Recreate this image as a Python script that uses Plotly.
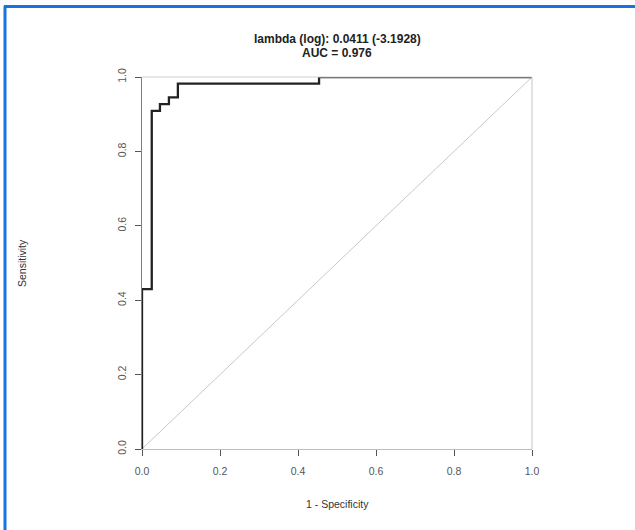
import plotly.graph_objects as go

# ROC curve points (1 - specificity, sensitivity)
fpr = [0.0, 0.0, 0.025, 0.046, 0.069, 0.092, 0.454, 1.0]
tpr = [0.0, 0.43, 0.909, 0.927, 0.945, 0.982, 1.0, 1.0]
diag_x = [0.0, 1.0]
diag_y = [0.0, 1.0]
tick_vals = [0.0, 0.2, 0.4, 0.6, 0.8, 1.0]
tick_text = ["0.0", "0.2", "0.4", "0.6", "0.8", "1.0"]
title_lines = ["lambda (log): 0.0411 (-3.1928)", "AUC = 0.976"]
x_title = "1 - Specificity"
y_title = "Sensitivity"

W, H = 635, 530
L, R, T, B = 142, 103, 77, 81
pw, ph = W - L - R, H - T - B

FONT = "Liberation Sans, Arial, sans-serif"

fig = go.Figure()
fig.add_trace(go.Scatter(x=diag_x, y=diag_y, mode="lines",
                         line=dict(color="#c8c8c8", width=1),
                         hoverinfo="skip", showlegend=False))
fig.add_trace(go.Scatter(x=fpr, y=tpr, mode="lines", line_shape="hv",
                         line=dict(color="#222222", width=2.3),
                         cliponaxis=False, showlegend=False))

def px_x(p):
    return (p - L) / pw

def px_y(p):
    return (H - B - p) / ph

shapes = [
    # light gray box top and right
    dict(type="line", xref="paper", yref="paper", x0=0, x1=1, y0=1, y1=1,
         line=dict(color="#cfcfcf", width=1.2)),
    dict(type="line", xref="paper", yref="paper", x0=1, x1=1, y0=0, y1=1,
         line=dict(color="#cfcfcf", width=1.2)),
    # blue frame (left and top)
    dict(type="line", xref="paper", yref="paper", x0=px_x(5), x1=px_x(5),
         y0=px_y(6), y1=px_y(H + 5), line=dict(color="#1872e0", width=3)),
    dict(type="line", xref="paper", yref="paper", x0=px_x(4), x1=px_x(W + 5),
         y0=px_y(6.5), y1=px_y(6.5), line=dict(color="#1872e0", width=3)),
]

annotations = [
    dict(text="<b>" + title_lines[0] + "</b>",
         xref="paper", yref="paper", x=0.5, y=px_y(39), xanchor="center",
         yanchor="middle", showarrow=False,
         font=dict(family=FONT, size=12, color="#222222")),
    dict(text="<b>" + title_lines[1] + "</b>",
         xref="paper", yref="paper", x=0.5, y=px_y(53), xanchor="center",
         yanchor="middle", showarrow=False,
         font=dict(family=FONT, size=12, color="#222222")),
    dict(text=x_title, xref="paper", yref="paper", x=0.5, y=px_y(504),
         xanchor="center", yanchor="middle", showarrow=False,
         font=dict(family=FONT, size=10.5, color="#333333")),
    dict(text=y_title, xref="paper", yref="paper", x=px_x(22), y=0.5,
         xanchor="center", yanchor="middle", showarrow=False, textangle=-90,
         font=dict(family=FONT, size=10.5, color="#333333")),
]

fig.update_layout(
    width=W, height=H,
    margin=dict(l=L, r=R, t=T, b=B, pad=0),
    paper_bgcolor="white", plot_bgcolor="white",
    shapes=shapes, annotations=annotations,
    font=dict(family=FONT, size=10, color="#444444"),
)
fig.update_xaxes(range=[0, 1], showgrid=False, zeroline=False,
                 showline=True, linecolor="#bdbdbd", linewidth=1.2,
                 ticks="outside", ticklen=6, tickwidth=1.2, tickcolor="#555555",
                 tickvals=tick_vals, ticktext=tick_text, ticklabelstandoff=6,
                 tickfont=dict(family=FONT, size=10.5, color="#555555"))
fig.update_yaxes(range=[0, 1], showgrid=False, zeroline=False,
                 showline=True, linecolor="#808080", linewidth=1.2,
                 ticks="outside", ticklen=6, tickwidth=1.2, tickcolor="#555555",
                 tickvals=tick_vals, ticktext=tick_text, tickangle=-90,
                 ticklabelstandoff=5,
                 tickfont=dict(family=FONT, size=10.5, color="#555555"))

fig.write_html("out.html",
               config={"displayModeBar": False},
               post_script="document.body.style.margin='0';"
                           "document.body.style.overflow='hidden';")
